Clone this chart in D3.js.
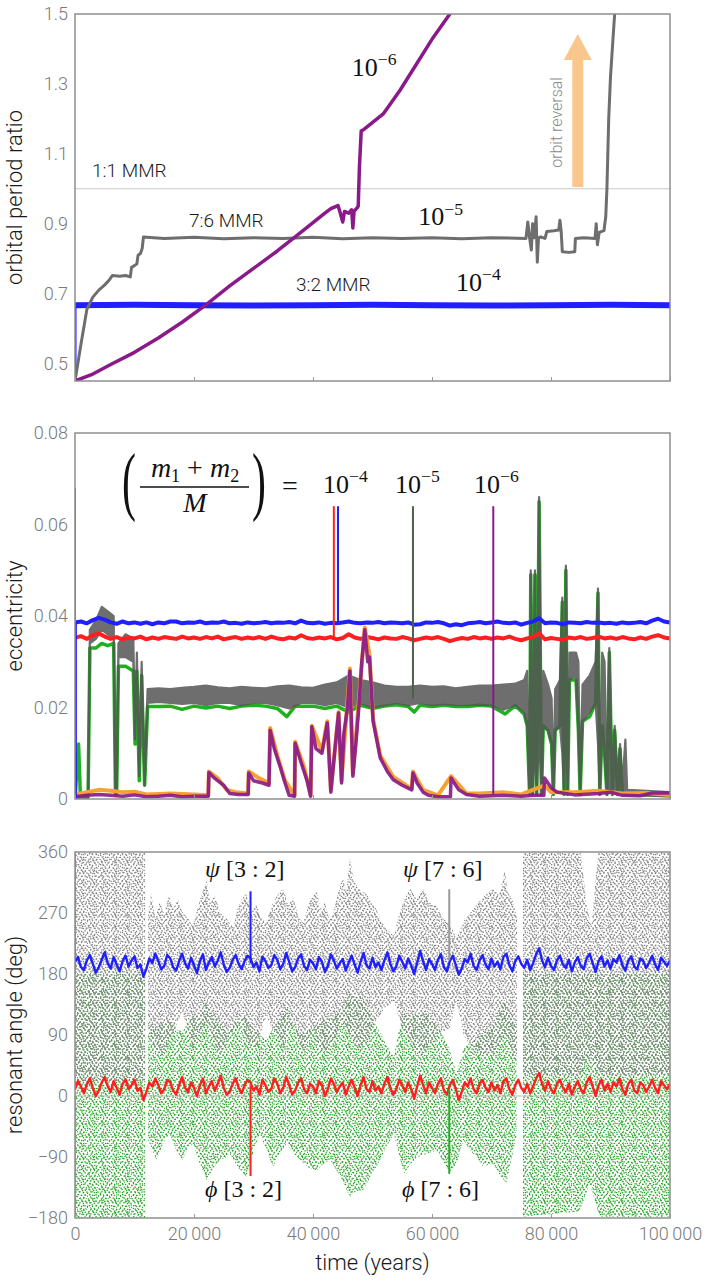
<!DOCTYPE html>
<html><head><meta charset="utf-8">
<script src="https://cdn.jsdelivr.net/npm/d3@7"></script>
<style>
body{margin:0;background:#fff;}
svg{display:block;}
.tick text{font-family:Roboto,"Liberation Sans",sans-serif;font-weight:300;fill:#7a7a7a;font-size:18px;}
.tick line{stroke:#999;}
.lab{font-family:Roboto,"Liberation Sans",sans-serif;font-weight:300;fill:#1a1a1a;font-size:22px;}
.mmr{font-family:Roboto,"Liberation Sans",sans-serif;font-weight:300;fill:#1a1a1a;font-size:19px;}
.math{font-family:"Liberation Serif","DejaVu Serif",serif;fill:#111;}
</style></head><body>
<svg id="c" width="709" height="1284"></svg>
<script>
// ---------------- DATA ----------------
const xTicks = [0, 20000, 40000, 60000, 80000, 100000];
const p1Ticks = [0.5, 0.7, 0.9, 1.1, 1.3, 1.5];
const p2Ticks = [0, 0.02, 0.04, 0.06, 0.08];
const p3Ticks = [-180, -90, 0, 90, 180, 270, 360];

// Panel 1: orbital period ratio  [time, ratio]
const period4 = [[0,0.667],[10000,0.668],[20000,0.667],[30000,0.666],[40000,0.667],[50000,0.668],[60000,0.667],[70000,0.666],[80000,0.667],[90000,0.668],[100000,0.667]];
const period5 = [[0,0.45],[1000,0.555],[2000,0.655],[3000,0.69],[4000,0.71],[5000,0.725],[5800,0.74],[6300,0.752],[7500,0.75],[8500,0.752],[9300,0.748],[9500,0.775],[10000,0.78],[10400,0.785],[10600,0.81],[11000,0.815],[11300,0.83],[11500,0.862],[15000,0.858],[20000,0.861],[25000,0.857],[30000,0.86],[35000,0.858],[40000,0.861],[45000,0.857],[50000,0.86],[55000,0.858],[60000,0.86],[65000,0.857],[70000,0.86],[75800,0.858],[76100,0.905],[76400,0.86],[76700,0.825],[76900,0.9],[77200,0.86],[77500,0.92],[77700,0.79],[77900,0.86],[78300,0.862],[79000,0.858],[79300,0.878],[80500,0.88],[81300,0.882],[81500,0.91],[81700,0.88],[81900,0.82],[83000,0.818],[84000,0.82],[84100,0.858],[85500,0.86],[87400,0.858],[87600,0.9],[87800,0.84],[88100,0.875],[88900,0.88],[89200,0.92],[89400,1.0],[89700,1.2],[90000,1.32],[90500,1.45],[90900,1.55]];
const period6 = [[0,0.45],[3000,0.47],[6000,0.497],[10000,0.532],[14000,0.573],[18000,0.618],[22000,0.668],[26000,0.722],[30000,0.772],[34000,0.822],[37000,0.862],[40000,0.903],[42000,0.93],[43000,0.943],[44200,0.952],[44600,0.93],[45000,0.905],[45300,0.935],[46000,0.93],[46500,0.94],[46700,0.888],[46900,0.935],[47400,0.945],[47600,0.95],[47800,1.06],[48100,1.165],[48400,1.168],[51800,1.214],[54600,1.281],[57400,1.357],[60200,1.433],[63000,1.5],[63600,1.52]];
const period4Start = [[0,0.45],[0,0.667]];

// Panel 2: eccentricity on a 1000-yr grid (10^-4 pair)
const eccBlue = [0.0386,0.0388,0.0384,0.0391,0.0396,0.0392,0.0386,0.0383,0.0388,0.0384,
0.0386,0.0383,0.0386,0.0382,0.0386,0.0384,0.0388,0.0388,0.0384,0.0386,
0.0385,0.0388,0.0384,0.0386,0.0385,0.0388,0.0384,0.0385,0.0383,0.0386,
0.0384,0.0385,0.0387,0.0384,0.0386,0.0385,0.0387,0.0384,0.0390,0.0385,
0.0384,0.0386,0.0383,0.0385,0.0384,0.0386,0.0388,0.0385,0.0384,0.0386,
0.0385,0.0387,0.0384,0.0386,0.0385,0.0384,0.0386,0.0381,0.0382,0.0386,
0.0385,0.0387,0.0384,0.0379,0.0382,0.0380,0.0384,0.0385,0.0387,0.0384,
0.0386,0.0388,0.0385,0.0384,0.0386,0.0381,0.0385,0.0388,0.0395,0.0384,
0.0386,0.0385,0.0382,0.0386,0.0385,0.0384,0.0387,0.0385,0.0386,0.0384,
0.0385,0.0383,0.0386,0.0384,0.0385,0.0387,0.0384,0.0390,0.0394,0.0388,0.0386];
const eccRed = [0.0352,0.0356,0.0350,0.0358,0.0362,0.0355,0.0350,0.0354,0.0349,0.0353,
0.0351,0.0355,0.0349,0.0353,0.0350,0.0354,0.0352,0.0350,0.0355,0.0351,
0.0353,0.0350,0.0354,0.0351,0.0355,0.0349,0.0352,0.0354,0.0350,0.0353,
0.0351,0.0354,0.0350,0.0355,0.0351,0.0349,0.0353,0.0351,0.0358,0.0352,
0.0350,0.0353,0.0351,0.0354,0.0349,0.0352,0.0360,0.0353,0.0350,0.0354,
0.0352,0.0349,0.0353,0.0351,0.0350,0.0354,0.0351,0.0347,0.0350,0.0353,
0.0351,0.0354,0.0350,0.0345,0.0349,0.0352,0.0350,0.0354,0.0351,0.0353,
0.0350,0.0353,0.0351,0.0355,0.0350,0.0347,0.0351,0.0354,0.0362,0.0349,
0.0352,0.0350,0.0348,0.0353,0.0351,0.0354,0.0350,0.0352,0.0355,0.0351,
0.0353,0.0350,0.0354,0.0351,0.0349,0.0353,0.0350,0.0355,0.0358,0.0353,0.0351];
// 10^-5 pair: grey band [time, low, high] and green [time, e]
const eccGrey = [[0,0,0.0012],[2200,0,0.0012],[2500,0.034,0.037],[3500,0.035,0.039],[4500,0.037,0.042],[5500,0.036,0.041],[6500,0.035,0.040],[6800,0.001,0.002],[7000,0.001,0.002],[7300,0.031,0.034],[8500,0.031,0.036],[9800,0.030,0.035],[10100,0.013,0.014],[10400,0.030,0.032],[10800,0.005,0.006],[11200,0.028,0.030],[11700,0.003,0.004],[12200,0.021,0.024],
[14000,0.0212,0.0242],[16000,0.021,0.024],[18000,0.0208,0.0243],[20000,0.021,0.0245],[22000,0.0205,0.0248],[24000,0.021,0.0244],[26000,0.021,0.0242],[28000,0.0205,0.0245],[30000,0.021,0.0243],[32000,0.021,0.0242],[34000,0.0205,0.0246],[36000,0.0198,0.0248],[38000,0.021,0.0244],[40000,0.021,0.0243],[42000,0.0205,0.025],[44000,0.021,0.0255],[46000,0.020,0.027],[48000,0.021,0.026],[50000,0.020,0.0255],[52000,0.0205,0.0248],[54000,0.021,0.0245],[56000,0.0205,0.0245],[58000,0.021,0.0248],[60000,0.0205,0.0245],[62000,0.0208,0.0246],[64000,0.0205,0.0242],[66000,0.0205,0.0245],[68000,0.0206,0.0248],[70000,0.0205,0.0248],[72000,0.0195,0.025],[74000,0.0205,0.0252],[75500,0.019,0.026],
[76000,0.016,0.028],[76400,0.001,0.003],[76600,0.010,0.050],[76900,0.001,0.003],[77300,0.012,0.050],[77600,0.001,0.004],[78000,0.015,0.066],[78400,0.001,0.004],[78700,0.016,0.028],[79500,0.015,0.025],[80100,0.012,0.022],[80400,0.001,0.003],[80700,0.015,0.024],[81500,0.016,0.026],[81900,0.010,0.044],[82200,0.001,0.003],[82500,0.020,0.051],[82800,0.001,0.003],[83100,0.026,0.032],[84200,0.027,0.032],[84600,0.015,0.030],[84900,0.001,0.003],[85300,0.017,0.025],[86500,0.019,0.027],[87500,0.021,0.030],[87900,0.012,0.046],[88200,0.001,0.003],[88600,0.016,0.032],[89000,0.010,0.030],[89400,0.001,0.003],[89800,0.002,0.033],[90300,0.001,0.003],[90700,0.002,0.016],[91200,0.001,0.003],[91600,0.002,0.012],[92000,0.001,0.003],[92500,0.002,0.013],[92800,0.001,0.002],[100000,0.0005,0.0015]];
const eccGreen = [[0,0],[600,0.012],[900,0.001],[2200,0.0005],[2500,0.033],[3500,0.033],[4500,0.034],[5500,0.0335],[6500,0.034],[6800,0.001],[7000,0.001],[7300,0.029],[8500,0.029],[9800,0.028],[10100,0.012],[10400,0.028],[10800,0.004],[11200,0.027],[11700,0.003],[12200,0.0202],
[14000,0.0202],[16000,0.0203],[18000,0.0196],[20000,0.0203],[22000,0.0199],[24000,0.0203],[26000,0.0198],[28000,0.0203],[30000,0.0205],[32000,0.0203],[34000,0.0198],[35600,0.018],[37000,0.0203],[40000,0.0203],[42000,0.0198],[44000,0.0203],[46000,0.019],[48000,0.0205],[50000,0.0198],[52000,0.0203],[54000,0.0206],[56000,0.0202],[57000,0.019],[58000,0.0205],[60000,0.0202],[62000,0.0205],[64000,0.0202],[66000,0.0202],[68000,0.0205],[70000,0.0203],[72300,0.0186],[74000,0.0204],[75500,0.0185],
[76000,0.016],[76400,0.001],[76600,0.049],[76900,0.001],[77300,0.049],[77600,0.001],[78000,0.065],[78400,0.001],[78700,0.016],[79500,0.015],[80100,0.012],[80400,0.001],[80700,0.015],[81500,0.016],[81900,0.043],[82200,0.001],[82500,0.050],[82800,0.001],[83100,0.026],[84200,0.026],[84600,0.015],[84900,0.001],[85300,0.017],[86500,0.018],[87500,0.021],[87900,0.045],[88200,0.001],[88600,0.016],[89000,0.010],[89400,0.001],[89800,0.032],[90300,0.001],[90700,0.015],[91200,0.001],[91600,0.011],[92000,0.001],[100000,0.0008]];
// 10^-6 pair
const eccPurple = [[0,0.0005],[2000,0.0008],[4000,0.001],[6000,0.0008],[8000,0.0006],[10000,0.0009],[12000,0.0005],[14000,0.0006],[16000,0.0008],[18000,0.0005],[20000,0.0006],[22400,0.0006],[22500,0.0058],[23500,0.0045],[25000,0.003],[26000,0.0012],[27500,0.001],[29100,0.001],[29200,0.0057],[30000,0.004],[31500,0.0035],[32600,0.003],[32800,0.015],[33500,0.011],[34500,0.007],[35300,0.0035],[36000,0.0008],[36900,0.0006],[37000,0.0122],[38000,0.008],[39000,0.004],[39600,0.0006],[39800,0.0158],[40500,0.011],[41500,0.010],[42400,0.0166],[42600,0.012],[43000,0.0015],[43700,0.011],[44300,0.0188],[44800,0.0035],[45200,0.0145],[45800,0.02],[46200,0.028],[46700,0.005],[47200,0.012],[47700,0.02],[48200,0.03],[48700,0.037],[49200,0.03],[49500,0.031],[50100,0.017],[51300,0.009],[52500,0.006],[53500,0.0042],[55000,0.003],[56600,0.002],[56800,0.0057],[57500,0.0035],[58500,0.0015],[59400,0.0008],[61000,0.0005],[63100,0.0005],[63200,0.0046],[64500,0.002],[65800,0.001],[68000,0.0006],[72000,0.0008],[75000,0.0006],[77000,0.0008],[78800,0.0008],[78900,0.0046],[80000,0.0025],[81000,0.0015],[84000,0.0009],[88000,0.0012],[90000,0.0015],[92000,0.0008],[95000,0.0007],[97000,0.0013],[100000,0.0013]];
const eccOrange = [[0,0.001],[2000,0.0015],[4000,0.002],[6000,0.0018],[8000,0.0015],[10000,0.0016],[12000,0.001],[16000,0.0012],[20000,0.001],[22400,0.0008],[22500,0.006],[24000,0.0045],[25500,0.002],[27000,0.0015],[29100,0.0012],[29200,0.006],[31000,0.0045],[32600,0.0035],[32800,0.0155],[34000,0.0095],[35300,0.004],[36900,0.0008],[37000,0.0125],[38500,0.007],[39600,0.001],[39800,0.016],[41500,0.0105],[42400,0.017],[43000,0.002],[44300,0.019],[44800,0.004],[46200,0.0285],[46700,0.0055],[48700,0.0375],[49500,0.0315],[50100,0.0175],[51300,0.0095],[53500,0.0048],[56600,0.0022],[56800,0.006],[58500,0.002],[61000,0.0008],[63200,0.005],[65800,0.0012],[68000,0.0012],[72000,0.0015],[75000,0.001],[78900,0.003],[80000,0.0015],[84000,0.0015],[88000,0.0018],[92000,0.0012],[96000,0.0013],[100000,0.0009]];
// label stems [time, from, to, colour]
const eccStems = [[0,0,0.068,"#ff1f1f"],[150,0,0.0386,"#1f1fff"],[43500,0.0352,0.064,"#ff1f1f"],[44200,0.0385,0.064,"#1f1fff"],[56800,0.022,0.064,"#4e5f4e"],[70300,0.001,0.064,"#8a1a8a"]];

// Panel 3: resonant angles on a 500-yr grid
const psi32 = [198,205,190,186,200,208,195,182,190,201,212,196,188,205,194,184,199,207,191,200,
206,189,194,176,188,203,196,210,199,187,192,208,203,190,185,199,210,196,188,204,
193,181,199,209,186,197,205,191,200,212,194,183,189,201,208,195,187,199,207,203,
190,197,184,206,199,189,193,208,201,187,195,211,198,184,190,203,209,192,186,201,
196,187,205,198,183,192,209,200,188,196,202,185,197,207,194,182,198,211,193,188,
204,190,197,186,200,212,195,184,191,207,198,188,203,193,180,196,214,199,186,202,
195,186,201,209,190,184,199,207,193,179,188,202,197,210,192,186,200,208,194,187,
203,191,198,187,205,210,193,184,199,206,195,189,201,186,196,209,218,200,190,204,
192,186,200,207,194,189,201,184,197,205,192,187,203,210,196,183,199,206,191,200,
188,202,197,208,193,185,200,206,191,187,203,199,189,197,207,194,186,204,198,192,200];
const phi32 = [10,22,14,4,18,26,12,0,8,20,28,14,6,22,12,2,18,24,10,16,
24,8,12,-6,6,20,14,26,16,4,10,24,20,8,2,16,28,12,6,20,
12,0,16,26,4,14,22,8,18,30,12,2,6,18,26,12,4,16,24,20,
8,14,2,24,16,6,10,26,18,4,12,28,16,2,8,20,26,10,4,18,
14,4,22,16,0,10,26,18,6,14,20,2,14,24,12,0,16,28,10,6,
22,8,14,4,18,28,12,2,10,24,16,6,20,10,-4,14,30,16,4,20,
12,4,18,26,8,2,16,24,10,-6,6,20,14,26,10,4,18,24,12,6,
20,8,16,4,22,26,10,2,16,24,12,6,18,4,14,26,34,18,8,22,
10,4,18,24,12,6,18,2,14,22,10,4,20,28,14,0,16,24,8,18,
6,20,14,26,10,2,18,24,8,4,20,16,6,14,24,12,4,22,16,10,18];
// scatter-cloud envelopes [time, low, high]; null = gap
const psi76Cloud = [[0,22,360],[11800,22,360],[12000,null,null],[12300,100,265],[12800,80,300],[13500,70,262],[14200,60,285],[15000,60,270],[15800,85,296],[16500,90,275],[17300,110,292],[18000,125,272],[19000,95,262],[19800,70,250],[21000,90,290],[22100,110,318],[22800,95,285],[23500,80,296],[24400,60,270],[25500,80,262],[26600,100,248],[27300,105,275],[28000,110,290],[28800,80,300],[29600,75,270],[30500,70,282],[31300,95,262],[32200,120,258],[33000,100,280],[34000,90,296],[35000,70,306],[35800,95,282],[36700,110,292],[37500,80,265],[38400,60,255],[39200,85,282],[40000,100,296],[40600,80,302],[41300,70,275],[42000,60,285],[42700,70,262],[43400,80,268],[44200,95,300],[45000,110,322],[45600,100,300],[46200,90,350],[47000,80,315],[47900,70,304],[49000,80,298],[49800,95,285],[50500,110,278],[51300,120,262],[52000,130,250],[53600,140,236],[54300,120,262],[55000,100,282],[55700,90,296],[56300,80,306],[57400,70,290],[58500,60,306],[59600,75,285],[60800,90,280],[61800,95,262],[63000,100,256],[64100,140,232],[65300,90,258],[66400,75,270],[67500,60,282],[68800,60,295],[70300,60,306],[71300,75,296],[72200,90,332],[72800,80,300],[73500,60,290],[74300,50,265],[74700,null,null],[75300,30,360],[85000,30,360],[86000,50,280],[86800,60,250],[87600,40,330],[88000,30,360],[100000,30,360]];
const phi76Cloud = [[0,-180,182],[11800,-180,182],[12000,null,null],[12300,-65,93],[13000,-80,110],[13700,-94,100],[14800,-70,112],[15900,-55,110],[17000,-80,98],[18100,-94,95],[19000,-78,108],[19800,-70,115],[21000,-100,120],[22100,-124,137],[23300,-105,118],[24400,-94,110],[25500,-90,92],[26000,-85,100],[27400,-105,112],[28800,-119,117],[29900,-85,100],[31000,-55,90],[32200,-80,83],[33300,-104,100],[34400,-85,115],[35600,-70,132],[36700,-85,108],[37800,-94,90],[39200,-105,98],[40600,-110,102],[41800,-100,112],[42900,-94,115],[44000,-110,120],[45100,-128,135],[46200,-149,151],[47300,-140,145],[48400,-139,150],[49600,-120,120],[50700,-104,102],[52100,-80,80],[53600,-55,58],[54400,-85,95],[55300,-114,122],[56400,-100,118],[57500,-90,120],[59200,-85,122],[60800,-80,102],[61900,-98,88],[63000,-114,68],[64100,-100,33],[65300,-65,70],[66400,-80,78],[67500,-90,83],[68600,-104,95],[70300,-100,102],[71300,-115,125],[72200,-125,141],[72500,-129,135],[73400,-90,118],[74200,-60,102],[74700,null,null],[75300,-178,181],[84800,-170,181],[86500,-129,181],[88200,-178,181],[100000,-178,181]];
const angleStems = [[0,180,360,"#1f1fff",1],[0,-175,0,"#ff1f1f",1],[29500,196,302,"#1f1fff",2],[29500,15,-118,"#ff1f1f",2],[62900,200,305,"#999999",2],[62900,10,-115,"#2aaa2a",2]];

// annotation positions in data units
const arrowSpec = {t: 84500, from: 1.005, to: 1.443};
// stipple textures (two incommensurate tiles)
const stippleA = [[0.4,0.8],[4.1,0.3],[7.6,1.5],[2.2,3.1],[5.8,3.9],[9.3,3.4],[0.9,6.0],[3.9,6.8],[7.4,6.2],[10.1,7.7],[2.6,9.4],[6.0,9.8],[8.7,10.3],[5.0,1.9]];
const stippleB = [[1.3,1.9],[5.2,0.7],[9.8,2.4],[12.1,0.2],[3.4,4.6],[7.6,5.3],[11.2,6.1],[0.5,8.2],[4.8,8.9],[8.9,9.6],[12.4,11.0],[2.7,11.8],[6.9,12.3],[10.4,4.0]];

// ---------------- DRAW ----------------
const svg = d3.select("#c");
const x = d3.scaleLinear().domain([0,100000]).range([75,670]);
const y1 = d3.scaleLinear().domain([0.45,1.5]).range([381,14]);
const y2 = d3.scaleLinear().domain([0,0.08]).range([799,433]);
const y3 = d3.scaleLinear().domain([-180,360]).range([1218,852]);
const defs = svg.append("defs");
[["c1",y1],["c2",y2],["c3",y3]].forEach(([id,y])=>{
  defs.append("clipPath").attr("id",id).append("rect")
    .attr("x",x.range()[0]).attr("y",y.range()[1]).attr("width",x.range()[1]-x.range()[0]).attr("height",y.range()[0]-y.range()[1]);
});
[["gA","#828282",stippleA,11],["gB","#828282",stippleB,13],["vA","#26a226",stippleA,11],["vB","#26a226",stippleB,13]].forEach(([id,col,dots,sz])=>{
  const p = defs.append("pattern").attr("id",id).attr("patternUnits","userSpaceOnUse").attr("width",sz).attr("height",sz);
  p.selectAll("rect").data(dots).join("rect").attr("x",d=>d[0]).attr("y",d=>d[1]).attr("width",1.35).attr("height",1.35).attr("fill",col);
});
const grid = vals => vals.map((v,i)=>[i*100000/(vals.length-1), v]);

function leftAxis(y, ticks, fmt){
  svg.append("g").attr("transform","translate(75,0)")
    .call(d3.axisLeft(y).tickValues(ticks).tickSize(0).tickPadding(7).tickFormat(fmt))
    .call(g=>g.select(".domain").remove());
}
function bottomTicks(y){
  svg.append("g").attr("transform",`translate(0,${y.range()[0]})`)
    .call(d3.axisBottom(x).tickValues(xTicks).tickSize(-4).tickFormat(""))
    .call(g=>g.select(".domain").remove());
}
function frame(y){
  svg.append("rect").attr("x",75).attr("y",y.range()[1]).attr("width",595).attr("height",y.range()[0]-y.range()[1])
    .attr("fill","none").attr("stroke","#8f8f8f").attr("stroke-width",1.5);
}
function line(g, data, y, col, w, op){
  g.append("path").datum(data).attr("fill","none").attr("stroke",col).attr("stroke-width",w)
    .attr("stroke-linejoin","round").attr("opacity",op||1)
    .attr("d", d3.line().x(d=>x(d[0])).y(d=>y(d[1])));
}
function stems(g, data, y, w){
  g.selectAll(null).data(data).join("line")
    .attr("x1",d=>x(d[0])).attr("x2",d=>x(d[0])).attr("y1",d=>y(d[1])).attr("y2",d=>y(d[2]))
    .attr("stroke",d=>d[3]).attr("stroke-width",d=>d[4]||w);
}
function sup(g, t, v, y, exp, size){
  const tx = g.append("text").attr("class","math").attr("x",x(t)).attr("y",y(v)).attr("font-size",size);
  tx.append("tspan").text("10");
  tx.append("tspan").attr("font-size",size*0.68).attr("dy",-size*0.42).text("\u2212"+exp);
}

// ----- Panel 1 -----
const g1 = svg.append("g").attr("clip-path","url(#c1)");
g1.append("line").attr("x1",x(0)).attr("x2",x(100000)).attr("y1",y1(1)).attr("y2",y1(1)).attr("stroke","#c8c8c8").attr("stroke-width",1);
line(g1, period4Start, y1, "#1f1fff", 3);
line(g1, period4, y1, "#1f1fff", 6);
line(g1, period5, y1, "#6e6e6e", 3);
line(g1, period6, y1, "#8a1a8a", 3.5);
const ax = x(arrowSpec.t), aTop = y1(arrowSpec.to), aBot = y1(arrowSpec.from);
svg.append("polygon").attr("fill","#f9c68c")
  .attr("points",[[ax-5.5,aBot],[ax+5.5,aBot],[ax+5.5,aTop+26],[ax+14,aTop+26],[ax,aTop],[ax-14,aTop+26],[ax-5.5,aTop+26]].map(p=>p.join(",")).join(" "));
svg.append("text").attr("transform",`translate(${ax-16},${(aTop+aBot)/2+12}) rotate(-90)`)
  .attr("text-anchor","middle").attr("font-family","Roboto, 'Liberation Sans', sans-serif").attr("font-weight",300)
  .attr("font-size",16).attr("fill","#8a8a8a").text("orbit reversal");
svg.append("text").attr("class","mmr").attr("x",x(2860)).attr("y",y1(1.035)).text("1:1 MMR");
svg.append("text").attr("class","mmr").attr("x",x(19160)).attr("y",y1(0.892)).text("7:6 MMR");
svg.append("text").attr("class","mmr").attr("x",x(37140)).attr("y",y1(0.707)).text("3:2 MMR");
sup(svg, 46500, 1.324, y1, "6", 26);
sup(svg, 57700, 0.895, y1, "5", 26);
sup(svg, 64040, 0.707, y1, "4", 26);
frame(y1); leftAxis(y1, p1Ticks, d3.format(".1f")); bottomTicks(y1);
svg.append("text").attr("class","lab").attr("text-anchor","middle").attr("transform",`translate(22,${(y1(0.45)+y1(1.5))/2}) rotate(-90)`).text("orbital period ratio");

// ----- Panel 2 -----
const g2 = svg.append("g").attr("clip-path","url(#c2)");
line(g2, eccGreen, y2, "#1fb01f", 3.5);
const gg = g2.append("g").attr("opacity",0.85);
gg.append("path").datum(eccGrey).attr("fill","#555").attr("stroke","#555").attr("stroke-width",2.2).attr("stroke-linejoin","round")
  .attr("d", d3.area().x(d=>x(d[0])).y0(d=>y2(d[1])).y1(d=>y2(d[2])));
line(g2, grid(eccBlue), y2, "#1f1fff", 4);
line(g2, grid(eccRed), y2, "#ff1f1f", 4);
line(g2, eccOrange, y2, "#f7a130", 4);
line(g2, eccPurple, y2, "#8a1a8a", 3.5, 0.92);
stems(g2, eccStems, y2, 2);
frame(y2); leftAxis(y2, p2Ticks, d=> d===0 ? "0" : d3.format(".2f")(d)); bottomTicks(y2);
svg.append("text").attr("class","lab").attr("text-anchor","middle").attr("transform",`translate(22,${(y2(0)+y2(0.08))/2}) rotate(-90)`).text("eccentricity");
const fx = x(20170), fy = y2(0.0682);
const fg = svg.append("g").attr("class","math");
fg.append("text").attr("transform",`translate(${fx-73},${fy+19}) scale(0.55,1)`).attr("font-size",76).attr("font-weight",100).text("(");
fg.append("text").attr("transform",`translate(${fx+57},${fy+19}) scale(0.55,1)`).attr("font-size",76).attr("font-weight",100).text(")");
const num = fg.append("text").attr("x",fx).attr("y",fy-10).attr("text-anchor","middle").attr("font-size",28);
num.append("tspan").attr("font-style","italic").text("m");
num.append("tspan").attr("font-size",18).attr("dy",5).text("1");
num.append("tspan").attr("dy",-5).text(" + ");
num.append("tspan").attr("font-style","italic").text("m");
num.append("tspan").attr("font-size",18).attr("dy",5).text("2");
fg.append("line").attr("x1",fx-55).attr("x2",fx+54).attr("y1",fy).attr("y2",fy).attr("stroke","#111").attr("stroke-width",1.3);
fg.append("text").attr("x",fx).attr("y",fy+25).attr("text-anchor","middle").attr("font-size",28).attr("font-style","italic").text("M");
fg.append("text").attr("x",fx+95).attr("y",fy+8).attr("text-anchor","middle").attr("font-size",28).text("=");
sup(svg, 41700, 0.0668, y2, "4", 26);
sup(svg, 53780, 0.0668, y2, "5", 26);
sup(svg, 67060, 0.0668, y2, "6", 26);

// ----- Panel 3 -----
const g3 = svg.append("g").attr("clip-path","url(#c3)");
const cloud = d3.area().defined(d=>d[1]!==null).x(d=>x(d[0])).y0(d=>y3(d[1])).y1(d=>y3(d[2]));
["vA","vB"].forEach(p=> g3.append("path").datum(phi76Cloud).attr("fill",`url(#${p})`).attr("d",cloud));
["gA","gB"].forEach(p=> g3.append("path").datum(psi76Cloud).attr("fill",`url(#${p})`).attr("d",cloud));
g3.append("line").attr("x1",x(0)).attr("x2",x(100000)).attr("y1",y3(0)).attr("y2",y3(0)).attr("stroke","#bdbdbd").attr("stroke-width",1);
line(g3, grid(psi32), y3, "#1f1fff", 2.4);
line(g3, grid(phi32), y3, "#ff1f1f", 2.4);
stems(g3, angleStems, y3, 2);
frame(y3);
leftAxis(y3, p3Ticks, d3.format("d"));
svg.append("g").attr("transform",`translate(0,${y3.range()[0]})`)
  .call(d3.axisBottom(x).tickValues(xTicks).tickSize(-4).tickPadding(9).tickFormat(d=> d===0 ? "0" : d3.format(",")(d).replace(/,/g,"\u2009")))
  .call(g=>g.select(".domain").remove());
svg.append("text").attr("class","lab").attr("text-anchor","middle").attr("transform",`translate(22,${(y3(-180)+y3(360))/2}) rotate(-90)`).text("resonant angle (deg)");
svg.append("text").attr("class","lab").attr("text-anchor","middle").attr("x",(x(0)+x(100000))/2).attr("y",1270).text("time (years)");
const angLabels = [["\u03c8","[3 : 2]",21850,323],["\u03d5","[3 : 2]",21850,-149],["\u03c8","[7 : 6]",55130,323],["\u03d5","[7 : 6]",54960,-149]];
angLabels.forEach(([g,b,t,a])=>{
  const tx = svg.append("text").attr("class","math").attr("x",x(t)).attr("y",y3(a)).attr("font-size",24);
  tx.append("tspan").attr("font-style","italic").text(g+" ");
  tx.append("tspan").text(b);
});
</script></body></html>
